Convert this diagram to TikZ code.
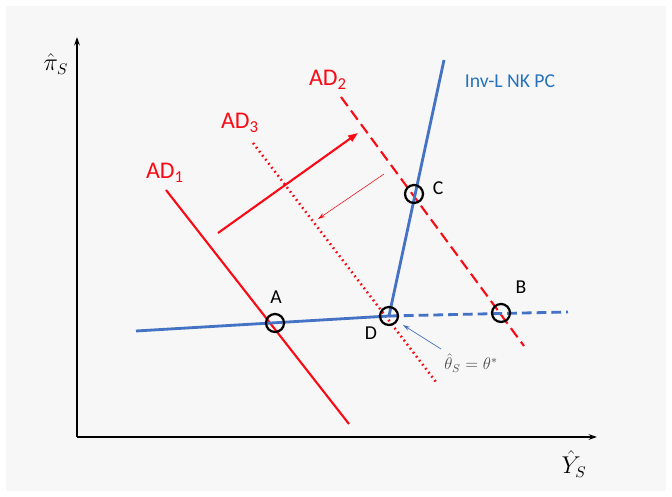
\documentclass[tikz,border=0pt]{standalone}
\usepackage{amsmath}
\usepackage{fontspec}
\setmainfont{Carlito}
\usetikzlibrary{arrows.meta}
\definecolor{adred}{RGB}{250,10,20}
\definecolor{pcblue}{RGB}{68,114,196}
\definecolor{txtblue}{RGB}{40,115,190}
\definecolor{bggray}{RGB}{247,247,247}
\tikzset{
  axis/.style={-{Stealth[length=6pt,width=4pt]},black,line width=1pt},
  adline/.style={adred,line width=1.5pt},
  pcline/.style={pcblue,line width=2pt},
  ring/.style={circle,draw=black,line width=1.6pt,minimum size=0.45cm,inner sep=0pt},
  adlabel/.style={adred,font=\fontsize{17}{20}\selectfont},
  ptlabel/.style={black,font=\fontsize{14}{17}\selectfont},
}
\begin{document}
\begin{tikzpicture}[x=0.025cm,y=-0.025cm]
    \useasboundingbox (0,0) rectangle (672,497);
    \fill[bggray] (6,6) rectangle (666,491);

    % axes
    \coordinate (O) at (77,437);
    \coordinate (ytop) at (77,37);
    \coordinate (xend) at (597,437);
    \draw[axis] (O) -- (ytop);
    \draw[axis] (O) -- (xend);
    \node (pilab) at (56,64) {\fontsize{16}{19}\selectfont$\hat{\pi}_S$};
    \node (ylab) at (574,464) {\fontsize{16}{19}\selectfont$\hat{Y}_S$};

    % equilibrium points
    \coordinate (A) at (275,323);
    \coordinate (B) at (501,313);
    \coordinate (C) at (414,194);
    \coordinate (D) at (389,316);

    % AD curves
    \coordinate (ad1s) at (166,190);
    \coordinate (ad1e) at (349,424);
    \coordinate (ad2s) at (341,97);
    \coordinate (ad2e) at (524,346);
    \coordinate (ad3s) at (253,143);
    \coordinate (ad3e) at (436,382);
    \draw[adline] (ad1s) -- (ad1e);
    \draw[adline,dash pattern=on 8pt off 4pt] (ad2s) -- (ad2e);
    \draw[adline,line width=1.8pt,dash pattern=on 1.2pt off 2.4pt] (ad3s) -- (ad3e);
    \node[adlabel] (ad1lab) at (165,173) {AD\textsubscript{1}};
    \node[adlabel] (ad2lab) at (328,80) {AD\textsubscript{2}};
    \node[adlabel] (ad3lab) at (240,123) {AD\textsubscript{3}};

    % shifts of AD
    \coordinate (shs) at (218,233);
    \coordinate (she) at (358,133);
    \coordinate (bks) at (384,174);
    \coordinate (bke) at (318,219);
    \draw[adline,-{Triangle[length=7pt,width=5pt]}] (shs) -- (she);
    \draw[adred,line width=0.4pt,-{Stealth[length=5pt,width=3pt]}] (bks) -- (bke);

    % Inv-L NK PC
    \coordinate (pc0) at (136,331);
    \coordinate (pctop) at (444,60);
    \coordinate (pcend) at (568,312);
    \draw[pcline] (pc0) -- (D) -- (pctop);
    \draw[pcline,dash pattern=on 7pt off 3.5pt] (D) -- (pcend);
    \node[txtblue,font=\fontsize{14}{17}\selectfont] (pclab) at (510,81) {Inv-L NK PC};

    % theta label
    \node[font=\fontsize{12}{14}\selectfont,text=black!70] (thlab) at (471,363) {$\hat{\theta}_S=\theta^{*}$};
    \coordinate (ths) at (441,349);
    \coordinate (the) at (403,325);
    \draw[pcblue,line width=0.5pt,-{Stealth[length=5pt,width=3pt]}] (ths) -- (the);

    % rings and letters
    \node[ring] (rA) at (A) {};
    \node[ring] (rB) at (B) {};
    \node[ring] (rC) at (C) {};
    \node[ring] (rD) at (D) {};
    \node[ptlabel] (lA) at (276,297) {A};
    \node[ptlabel] (lB) at (521,287) {B};
    \node[ptlabel] (lC) at (438,188) {C};
    \node[ptlabel] (lD) at (371,333) {D};
\end{tikzpicture}
\end{document}
